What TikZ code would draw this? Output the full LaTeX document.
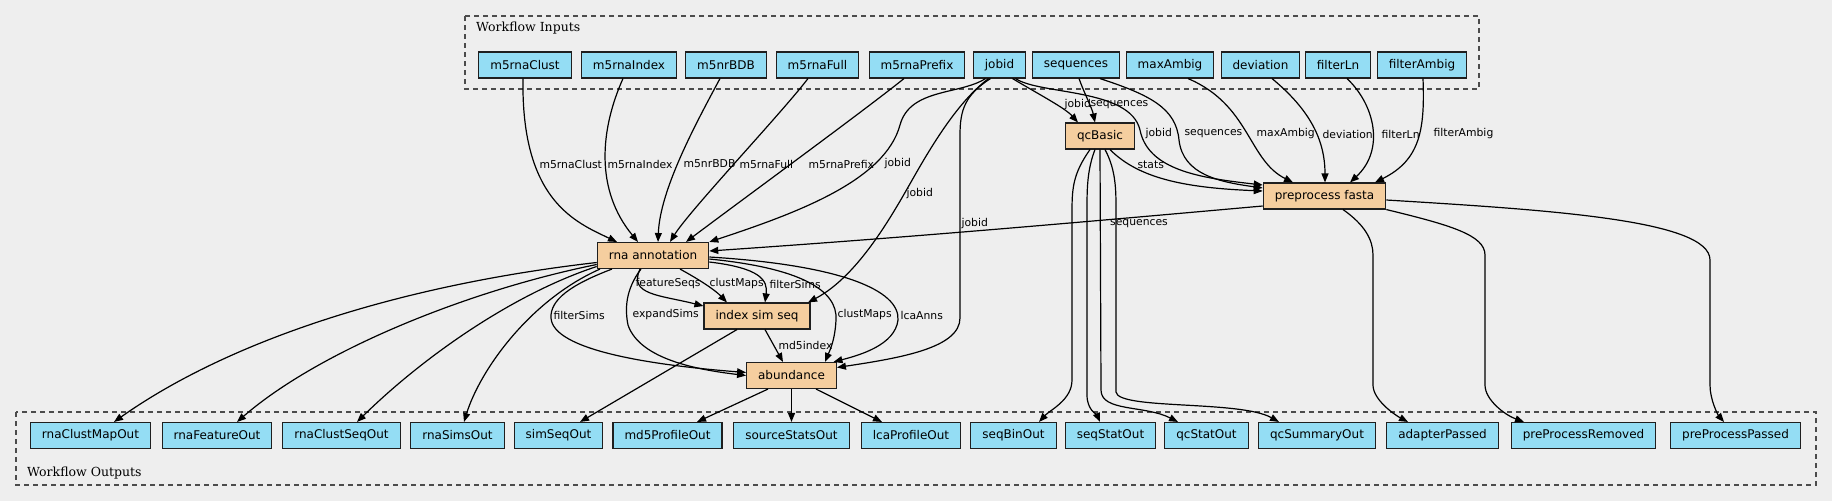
\documentclass[tikz,border=0pt]{standalone}
\usepackage{fontspec}
\setmainfont{DejaVu Sans}
\newfontfamily\clusterserif{DejaVu Serif}
\usepackage{tikz}
\usetikzlibrary{arrows.meta,positioning}

\definecolor{bgcol}{HTML}{EEEEEE}
\definecolor{inblue}{HTML}{94DDF4}
\definecolor{procfill}{HTML}{F5CE9F}
\newcommand{\nodefont}{\fontsize{12pt}{14pt}\selectfont}
\newcommand{\lblfont}{\fontsize{10.8pt}{12pt}\selectfont}

\tikzset{
  io/.style={draw=black!88, fill=inblue, line width=1.1pt, minimum height=26pt,
    inner xsep=11.5pt, inner ysep=0pt, font=\nodefont},
  proc/.style={io, fill=procfill},
  lbl/.style={font=\lblfont, inner sep=0pt, anchor=west},
  clbl/.style={font=\clusterserif\fontsize{12.5pt}{14pt}\selectfont, inner sep=0pt, anchor=base west},
  flow/.style={line width=1.2pt, -{Triangle[length=9pt,width=7pt]}},
  cluster/.style={draw=black!70, dash pattern=on 5pt off 4pt, line width=1.2pt}
}

\begin{document}
\begin{tikzpicture}[x=1pt,y=-1pt]
    % Canvas
    \fill[bgcol] (0,0) rectangle (1832,501);
    \useasboundingbox (0,0) rectangle (1832,501);

    % Clusters
    \draw[cluster] (465,16) rectangle (1479,89);
    \node[clbl] (inlabel) at (476,31.5) {Workflow Inputs};
    \draw[cluster] (16,412) rectangle (1816,485);
    \node[clbl] (outlabel) at (27,476.5) {Workflow Outputs};

    % Workflow inputs
    \node[io] (m5rnaClust) at (525,65) {m5rnaClust};
    \node[io] (m5rnaIndex) at (629,65) {m5rnaIndex};
    \node[io] (m5nrBDB) at (726,65) {m5nrBDB};
    \node[io] (m5rnaFull) at (817.5,65) {m5rnaFull};
    \node[io] (m5rnaPrefix) at (917,65) {m5rnaPrefix};
    \node[io] (jobid) at (999.5,65) {jobid};
    \node[io] (sequences) at (1076,65) {sequences};
    \node[io] (maxAmbig) at (1170,65) {maxAmbig};
    \node[io] (deviation) at (1260.5,65) {deviation};
    \node[io] (filterLn) at (1338,65) {filterLn};
    \node[io] (filterAmbig) at (1422,65) {filterAmbig};

    % Steps
    \node[proc] (qcbasic) at (1100,136) {qcBasic};
    \node[proc] (prep) at (1324.5,196) {preprocess fasta};
    \node[proc] (rna) at (653,255.5) {rna annotation};
    \node[proc] (index) at (757,316) {index sim seq};
    \node[proc] (abund) at (791.5,375.5) {abundance};

    % Workflow outputs
    \node[io] (rnaClustMapOut) at (90.5,435.5) {rnaClustMapOut};
    \node[io] (rnaFeatureOut) at (217,435.5) {rnaFeatureOut};
    \node[io] (rnaClustSeqOut) at (341.5,435.5) {rnaClustSeqOut};
    \node[io] (rnaSimsOut) at (457.5,435.5) {rnaSimsOut};
    \node[io] (simSeqOut) at (558.5,435.5) {simSeqOut};
    \node[io] (md5ProfileOut) at (667.5,435.5) {md5ProfileOut};
    \node[io] (sourceStatsOut) at (791.5,435.5) {sourceStatsOut};
    \node[io] (lcaProfileOut) at (911,435.5) {lcaProfileOut};
    \node[io] (seqBinOut) at (1013.5,435.5) {seqBinOut};
    \node[io] (seqStatOut) at (1110.5,435.5) {seqStatOut};
    \node[io] (qcStatOut) at (1206.5,435.5) {qcStatOut};
    \node[io] (qcSummaryOut) at (1317,435.5) {qcSummaryOut};
    \node[io] (adapterPassed) at (1442.5,435.5) {adapterPassed};
    \node[io] (preProcessRemoved) at (1583.5,435.5) {preProcessRemoved};
    \node[io] (preProcessPassed) at (1735.5,435.5) {preProcessPassed};

    % Inputs into rna annotation
    \draw[flow] ([xshift=-2pt]m5rnaClust.south) .. controls (521,200) and (575,222) .. ([xshift=-36pt]rna.north)
        node[lbl] at (539,164) {m5rnaClust};
    \draw[flow] ([xshift=-6pt]m5rnaIndex.south) .. controls (600,130) and (595,190) .. ([xshift=-15pt]rna.north)
        node[lbl] at (607,164) {m5rnaIndex};
    \draw[flow] ([xshift=-6pt]m5nrBDB.south) .. controls (695,125) and (660,190) .. ([xshift=5pt]rna.north)
        node[lbl] at (683,164) {m5nrBDB};
    \draw[flow] ([xshift=-9.5pt]m5rnaFull.south) .. controls (780,115) and (690,210) .. ([xshift=17pt]rna.north)
        node[lbl] at (739,164) {m5rnaFull};
    \draw[flow] ([xshift=-13pt]m5rnaPrefix.south) .. controls (865,110) and (735,205) .. ([xshift=33pt]rna.north)
        node[lbl] at (808,164) {m5rnaPrefix};
    \draw[flow] ([xshift=-14pt]jobid.south) .. controls (960,95) and (910,88) .. (900,125)
        .. controls (885,180) and (800,212) .. (rna.north east)
        node[lbl] at (884,164) {jobid};
    \draw[flow] ([yshift=-10pt]prep.west) .. controls (1050,225) and (900,238) .. ([yshift=4.5pt]rna.east)
        node[lbl, anchor=center] at (1139,224) {sequences};

    % jobid into the other steps
    \draw[flow] ([xshift=-11pt]jobid.south) .. controls (960,100) and (935,140) .. (915,175)
        .. controls (895,210) and (860,275) .. ([xshift=51pt]index.north)
        node[lbl] at (906,194) {jobid};
    \draw[flow] ([xshift=-9pt]jobid.south) .. controls (965,95) and (960,110) .. (960,135) -- (960,318)
        .. controls (960,348) and (900,358) .. ([yshift=8pt]abund.east)
        node[lbl] at (961,224) {jobid};
    \draw[flow] ([xshift=13pt]jobid.south) .. controls (1040,95) and (1065,108) .. ([xshift=-22pt]qcbasic.north)
        node[lbl] at (1064,105) {jobid};
    \draw[flow] ([xshift=16pt]jobid.south) .. controls (1040,95) and (1130,88) .. (1140,130)
        .. controls (1148,170) and (1200,178) .. ([yshift=11pt]prep.west)
        node[lbl] at (1145,134) {jobid};

    % Parameters into preprocess fasta
    \draw[flow] ([xshift=3pt]sequences.south) .. controls (1085,95) and (1092,108) .. ([xshift=-5pt]qcbasic.north)
        node[lbl] at (1090,105) {sequences};
    \draw[flow] ([xshift=24pt]sequences.south) .. controls (1150,95) and (1176,108) .. (1179,140)
        .. controls (1183,175) and (1220,182) .. ([yshift=8pt]prep.west)
        node[lbl] at (1184,134) {sequences};
    \draw[flow] ([xshift=18pt]maxAmbig.south) .. controls (1250,105) and (1248,160) .. ([xshift=-31.5pt]prep.north)
        node[lbl] at (1256,134) {maxAmbig};
    \draw[flow] ([xshift=11.5pt]deviation.south) .. controls (1310,110) and (1325,140) .. ([xshift=0.5pt]prep.north)
        node[lbl] at (1322,134) {deviation};
    \draw[flow] ([xshift=9pt]filterLn.south) .. controls (1375,105) and (1385,150) .. ([xshift=25.5pt]prep.north)
        node[lbl] at (1381,134) {filterLn};
    \draw[flow] ([xshift=1pt]filterAmbig.south) .. controls (1425,130) and (1420,160) .. ([xshift=50.5pt]prep.north)
        node[lbl] at (1433,134) {filterAmbig};
    \draw[flow] ([xshift=10pt]qcbasic.south) .. controls (1140,180) and (1190,188) .. ([yshift=5pt]prep.west)
        node[lbl] at (1137,165) {stats};

    % rna annotation into index sim seq and abundance
    \draw[flow] ([xshift=-13pt]rna.south) .. controls (628,295) and (660,295) .. ([yshift=10pt]index.west)
        node[lbl] at (635,284) {featureSeqs};
    \draw[flow] ([xshift=27pt]rna.south) .. controls (700,280) and (715,290) .. ([xshift=-30pt]index.north)
        node[lbl] at (709,284) {clustMaps};
    \draw[flow] ([yshift=-6.5pt]rna.east) .. controls (760,268) and (768,280) .. ([xshift=8pt]index.north)
        node[lbl] at (769,284) {filterSims};
    \draw[flow] ([xshift=-41pt]rna.south) .. controls (570,285) and (550,300) .. (551,318)
        .. controls (553,350) and (650,365) .. ([yshift=3pt]abund.west)
        node[lbl] at (553,315) {filterSims};
    \draw[flow] ([xshift=-12pt]rna.south) .. controls (625,290) and (625,310) .. (628,325)
        .. controls (640,360) and (700,370) .. (abund.west)
        node[lbl] at (632,315) {expandSims};
    \draw[flow] ([yshift=-3.5pt]rna.east) .. controls (800,268) and (838,290) .. (836,320)
        .. controls (835,340) and (830,350) .. ([xshift=33.5pt]abund.north)
        node[lbl] at (837,315) {clustMaps};
    \draw[flow] ([yshift=-1.5pt]rna.east) .. controls (840,265) and (900,290) .. (898,320)
        .. controls (895,345) and (860,355) .. ([xshift=42pt]abund.north)
        node[lbl] at (900,315) {lcaAnns};
    \draw[flow] ([xshift=8pt]index.south) -- ([xshift=-8.5pt]abund.north)
        node[lbl] at (778,345) {md5index};

    % Outputs of rna annotation and index sim seq
    \draw[flow] ([yshift=-7pt]rna.west) .. controls (400,285) and (230,340) .. ([xshift=23.5pt]rnaClustMapOut.north);
    \draw[flow] ([yshift=-9pt]rna.west) .. controls (470,290) and (320,350) .. ([xshift=20pt]rnaFeatureOut.north);
    \draw[flow] ([yshift=-11pt]rna.west) .. controls (510,295) and (420,360) .. ([xshift=15.5pt]rnaClustSeqOut.north);
    \draw[flow] ([xshift=-53pt]rna.south) .. controls (530,300) and (480,370) .. ([xshift=6.5pt]rnaSimsOut.north);
    \draw[flow] ([xshift=-20pt]index.south) -- ([xshift=21.5pt]simSeqOut.north);

    % Outputs of abundance
    \draw[flow] ([xshift=-23.5pt]abund.south) -- ([xshift=29.5pt]md5ProfileOut.north);
    \draw[flow] (abund.south) -- (sourceStatsOut.north);
    \draw[flow] ([xshift=24.5pt]abund.south) -- ([xshift=-29pt]lcaProfileOut.north);

    % Outputs of qcBasic
    \draw[flow] ([xshift=-10pt]qcbasic.south) .. controls (1072,175) and (1072,190) .. (1072,215) -- (1072,380)
        .. controls (1072,400) and (1050,410) .. ([xshift=25.5pt]seqBinOut.north);
    \draw[flow] ([xshift=-5pt]qcbasic.south) .. controls (1087,170) and (1087,190) .. (1087,210) -- (1087,395)
        .. controls (1087,410) and (1097,415) .. ([xshift=-10.5pt]seqStatOut.north);
    \draw[flow] (qcbasic.south) -- (1101,390)
        .. controls (1101,412) and (1145,405) .. ([xshift=-28.5pt]qcStatOut.north);
    \draw[flow] ([xshift=5pt]qcbasic.south) .. controls (1116,170) and (1116,190) .. (1116,210) -- (1116,392)
        .. controls (1118,410) and (1240,400) .. ([xshift=-38pt]qcSummaryOut.north);

    % Outputs of preprocess fasta
    \draw[flow] ([xshift=18.5pt]prep.south) .. controls (1365,225) and (1373,240) .. (1373,255) -- (1373,385)
        .. controls (1373,400) and (1395,415) .. ([xshift=-34.5pt]adapterPassed.north);
    \draw[flow] (prep.south east) .. controls (1450,225) and (1485,235) .. (1485,255) -- (1485,385)
        .. controls (1485,400) and (1505,415) .. ([xshift=-59.5pt]preProcessRemoved.north);
    \draw[flow] ([yshift=-4pt]prep.east) .. controls (1550,210) and (1710,220) .. (1710,260) -- (1710,385)
        .. controls (1710,400) and (1718,415) .. ([xshift=-11.5pt]preProcessPassed.north);
\end{tikzpicture}
\end{document}
